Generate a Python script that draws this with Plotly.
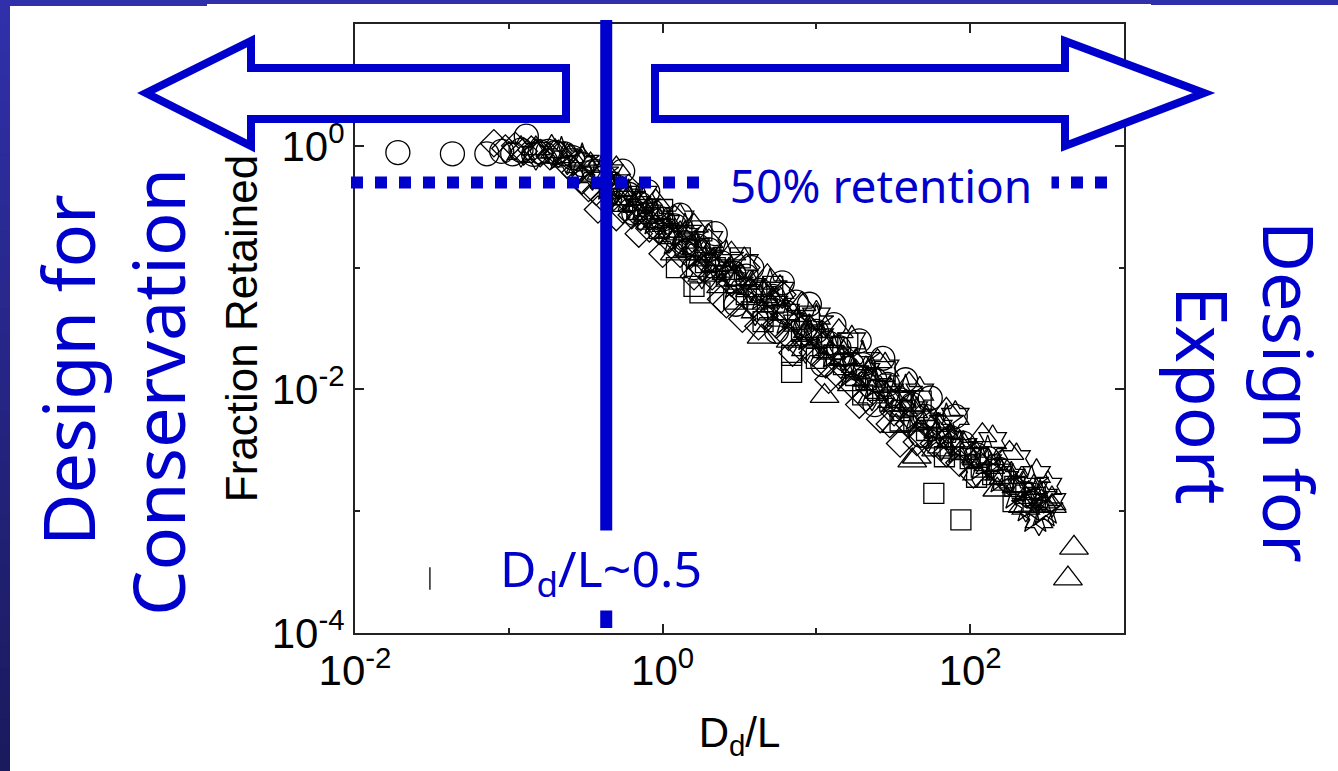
import math
import plotly.graph_objects as go

# ---------------------------------------------------------------- data
circle_x = [0.019, 0.043, 0.072, 0.09, 0.106, 0.12, 0.13, 0.145, 0.16, 0.18, 0.2, 0.23, 0.26, 0.3,
            0.36, 0.42, 0.5, 0.6, 0.72, 0.85, 1.0, 1.2, 1.4, 1.7, 2.0, 2.4, 2.9, 3.5, 4.3, 5.2,
            6.3, 7.4, 8.5, 10, 12, 14, 17, 20, 24, 29, 35, 42, 51, 62, 75, 90, 110, 130, 155,
            0.55, 0.8, 1.3, 2.2, 3.8, 6.0, 9, 13, 19, 27, 38, 55, 80,
            0.65, 1.6, 3.0, 5.5, 11, 24, 48]
circle_y = [0.88, 0.86, 0.86, 0.9, 0.86, 0.92, 1.2, 0.85, 0.89, 0.9, 0.88, 0.86, 0.8, 0.7, 0.62,
            0.55, 0.46, 0.4, 0.33, 0.29, 0.25, 0.22, 0.16, 0.15, 0.14, 0.11, 0.09, 0.085, 0.065,
            0.058, 0.043, 0.052, 0.032, 0.03, 0.024, 0.022, 0.016, 0.016, 0.012, 0.011, 0.0082,
            0.0075, 0.006, 0.005, 0.004, 0.0036, 0.0029, 0.0027, 0.0022,
            0.62, 0.42, 0.27, 0.19, 0.1, 0.075, 0.05, 0.034, 0.025, 0.018, 0.012, 0.0085, 0.006,
            0.28, 0.1, 0.05, 0.03, 0.016, 0.0075, 0.0042]

diamond_x = [0.08, 0.095, 0.11, 0.125, 0.14, 0.16, 0.185, 0.21, 0.24, 0.27, 0.3, 0.33, 0.37, 0.42,
             0.48, 0.55, 0.63, 0.72, 0.82, 0.95, 1.1, 1.3, 1.5, 1.8, 2.1, 2.4, 2.8, 3.3, 3.9, 4.6,
             5.5, 6.6, 8, 9.5, 11.5, 14, 17, 21, 26, 32, 35, 40, 48, 58, 70, 85, 105,
             0.38, 0.5, 0.7, 1.0, 1.6, 2.6, 4.2, 7, 12, 19, 30, 45,
             0.6, 1.2, 2.0, 3.5, 6]
diamond_y = [1.05, 0.95, 1.0, 0.9, 0.93, 0.87, 0.82, 0.86, 0.7, 0.6, 0.52, 0.45, 0.42, 0.36, 0.38,
             0.3, 0.27, 0.26, 0.21, 0.2, 0.17, 0.13, 0.125, 0.1, 0.085, 0.055, 0.075, 0.038, 0.05,
             0.04, 0.034, 0.027, 0.022, 0.02, 0.016, 0.013, 0.011, 0.0085, 0.0057, 0.0065, 0.0036,
             0.0052, 0.0043, 0.0036, 0.003, 0.0025, 0.002,
             0.3, 0.26, 0.19, 0.13, 0.085, 0.05, 0.033, 0.02, 0.012, 0.0075, 0.0052, 0.0037,
             0.45, 0.25, 0.16, 0.1, 0.06]

triangle_x = [0.15, 0.2, 0.25, 0.3, 0.34, 0.4, 0.45, 0.52, 0.6, 0.7, 0.8, 0.95, 1.1, 1.3, 1.55,
              1.85, 2.2, 2.6, 3.1, 3.7, 4.4, 5.2, 6.2, 7.4, 8.8, 10.5, 11.3, 12.5, 15, 18, 21.5,
              26, 31, 37, 42, 45, 52, 62, 75, 90, 110, 135, 165, 200, 240, 290, 340, 432, 473,
              0.5, 0.9, 1.6, 2.8, 4.8, 8, 14, 25, 40, 70, 120, 180,
              1.2, 2.4, 6.8, 17, 33, 60, 150, 220]
triangle_y = [0.95, 0.9, 0.82, 0.78, 0.7, 0.6, 0.5, 0.44, 0.37, 0.33, 0.26, 0.24, 0.2, 0.19, 0.14,
              0.13, 0.105, 0.09, 0.08, 0.065, 0.027, 0.055, 0.042, 0.036, 0.03, 0.025, 0.0088,
              0.02, 0.018, 0.014, 0.012, 0.0095, 0.008, 0.0068, 0.0026, 0.0028, 0.0055, 0.0045,
              0.0038, 0.0032, 0.0027, 0.0023, 0.0019, 0.0016, 0.0014, 0.0012, 0.0011, 0.00028,
              0.0005,
              0.65, 0.35, 0.22, 0.13, 0.085, 0.05, 0.03, 0.017, 0.011, 0.0068, 0.0042, 0.003,
              0.13, 0.07, 0.025, 0.011, 0.005, 0.0032, 0.0015, 0.0011]

square_x = [0.35, 0.45, 0.55, 0.68, 0.8, 0.95, 1.1, 1.23, 1.4, 1.65, 1.9, 2.2, 2.6, 3.0, 3.5,
            4.1, 4.8, 5.6, 6.9, 6.9, 8, 9.3, 11, 13, 15, 18, 21, 25, 30, 36, 43, 52, 58, 62, 74,
            87, 87, 100, 118, 140, 165, 195, 230, 265,
            1.0, 1.8, 3.2, 5.2, 9, 16, 28, 48,
            1.6, 1.75, 2.9, 4.5, 10, 20, 35, 68, 110, 190]
square_y = [0.62, 0.45, 0.35, 0.3, 0.25, 0.21, 0.19, 0.1, 0.15, 0.14, 0.11, 0.1, 0.085, 0.075,
            0.06, 0.055, 0.045, 0.04, 0.019, 0.0138, 0.03, 0.028, 0.022, 0.019, 0.016, 0.013,
            0.012, 0.0098, 0.008, 0.0067, 0.0055, 0.0046, 0.0014, 0.004, 0.0033, 0.0032, 0.00085,
            0.0027, 0.0023, 0.002, 0.0018, 0.0016, 0.0014, 0.0013,
            0.3, 0.2, 0.12, 0.07, 0.04, 0.024, 0.014, 0.008,
            0.07, 0.062, 0.055, 0.036, 0.018, 0.009, 0.0055, 0.0028, 0.0019, 0.0012]

hexagram_x = [0.12, 0.15, 0.19, 0.24, 0.29, 0.35, 0.42, 0.5, 0.58, 0.68, 0.8, 0.92, 1.05, 1.2,
              1.4, 1.65, 1.95, 2.3, 2.7, 3.2, 3.8, 4.5, 5.3, 6.3, 7.5, 9, 10.5, 12.5, 15, 18, 21,
              25, 30, 36, 43, 52, 62, 75, 90, 108, 130, 155, 185, 220, 260, 300, 340,
              0.45, 0.75, 1.3, 2.0, 3.4, 5.8, 10, 17, 28, 47, 80, 140, 200, 270, 320,
              1.8, 4.0, 8.5, 23, 65, 110, 230, 280]
hexagram_y = [0.9, 0.85, 0.92, 0.78, 0.7, 0.58, 0.52, 0.45, 0.38, 0.33, 0.28, 0.25, 0.23, 0.19,
              0.18, 0.15, 0.12, 0.11, 0.09, 0.082, 0.07, 0.06, 0.05, 0.043, 0.035, 0.031, 0.027,
              0.023, 0.019, 0.016, 0.014, 0.0115, 0.0095, 0.0082, 0.0068, 0.0055, 0.0048, 0.0039,
              0.0034, 0.0029, 0.0025, 0.0021, 0.0019, 0.0016, 0.0015, 0.0013, 0.0012,
              0.6, 0.4, 0.25, 0.17, 0.11, 0.065, 0.04, 0.025, 0.015, 0.0095, 0.006, 0.0038,
              0.0027, 0.002, 0.0016,
              0.09, 0.045, 0.022, 0.009, 0.0035, 0.0021, 0.0011, 0.00085]

star_x = [0.22, 0.3, 0.45, 0.6, 0.9, 1.2, 1.7, 2.2, 3.0, 4.5, 6.5, 9, 13, 17, 24, 32, 45, 60, 85,
          120, 160, 200, 240, 265, 300,
          0.4, 0.75, 1.4, 2.6, 5, 10, 20, 38, 70, 130, 250, 285, 310]
star_y = [0.85, 0.75, 0.48, 0.38, 0.25, 0.17, 0.13, 0.1, 0.075, 0.06, 0.038, 0.028, 0.02, 0.014,
          0.011, 0.0085, 0.0062, 0.0042, 0.0033, 0.0024, 0.0019, 0.0014, 0.0011, 0.0009, 0.001,
          0.6, 0.33, 0.2, 0.12, 0.07, 0.036, 0.018, 0.0095, 0.0055, 0.003, 0.0017, 0.0013,
          0.00105]

stray_x = [0.0307]
stray_y = [0.00028]

x_tick_vals = [0.01, 1, 100]
x_tick_text = ["10<sup>-2</sup>", "10<sup>0</sup>", "10<sup>2</sup>"]
x_minor_vals = [0.1, 10, 1000]
y_tick_vals = [1e-4, 1e-2, 1]
y_tick_text = ["10<sup>-4</sup>", "10<sup>-2</sup>", "10<sup>0</sup>"]
y_minor_vals = [1e-3, 1e-1, 10]

threshold_ratio = 0.43      # D_d/L ~ 0.5 divider
retention_level = 0.5       # 50% retention

# ---------------------------------------------------------------- geometry
W, H = 1338, 771
BOX_L, BOX_R, BOX_T, BOX_B = 355, 1124, 24, 633
X_RANGE = (-2, 3)
Y_RANGE = (-4, 1)
BLUE = "#0000CC"


def px_x(px):
    return (px - BOX_L) / (BOX_R - BOX_L)


def px_y(py):
    return (BOX_B - py) / (BOX_B - BOX_T)


def val_x(v):
    return (math.log10(v) - X_RANGE[0]) / (X_RANGE[1] - X_RANGE[0])


def val_y(v):
    return (math.log10(v) - Y_RANGE[0]) / (Y_RANGE[1] - Y_RANGE[0])


fig = go.Figure()


def add_series(xs, ys, symbol, size):
    fig.add_trace(go.Scatter(
        x=xs, y=ys, mode="markers", showlegend=False, hoverinfo="skip",
        marker=dict(symbol=symbol, size=size, color="black",
                    line=dict(color="black", width=1.3)),
    ))


add_series(circle_x, circle_y, "circle-open", 24)
add_series(diamond_x, diamond_y, "diamond-open", 21)
add_series(triangle_x, triangle_y, "triangle-up-open", 25)
add_series(square_x, square_y, "square-open", 20)
add_series(hexagram_x, hexagram_y, "hexagram-open", 24)
add_series(star_x, star_y, "star-open", 26)
add_series(stray_x, stray_y, "line-ns-open", 16)

black_font = "Liberation Sans, Arial, sans-serif"
tick_font = dict(family=black_font, size=42, color="black")
axis_common = dict(
    type="log", showgrid=False, zeroline=False,
    showline=True, linecolor="#222222", linewidth=2, mirror="ticks",
    ticks="inside", ticklen=9, tickwidth=2, tickcolor="#222222",
    tickmode="array", tickfont=tick_font, automargin=False,
)

fig.update_xaxes(
    **axis_common, range=list(X_RANGE),
    tickvals=x_tick_vals, ticktext=x_tick_text,
    minor=dict(tickmode="array", tickvals=x_minor_vals, ticks="inside", ticklen=5,
               tickwidth=2, tickcolor="#222222"),
    title=dict(text="D<sub>d</sub>/L", font=dict(family=black_font, size=42, color="black"),
               standoff=24),
)
fig.update_yaxes(
    **axis_common, range=list(Y_RANGE),
    tickvals=y_tick_vals, ticktext=y_tick_text,
    minor=dict(tickmode="array", tickvals=y_minor_vals, ticks="inside", ticklen=5,
               tickwidth=2, tickcolor="#222222"),
    title=dict(text="Fraction Retained", font=dict(family=black_font, size=44, color="black"),
               standoff=0),
)

shapes = []

# slide frame: vertical gradient bar on the left, thin band on top
top_rgb = (48, 48, 170)
bot_rgb = (26, 26, 94)
n_steps = 30
for i in range(n_steps):
    t = i / (n_steps - 1)
    c = tuple(round(a + (b - a) * t) for a, b in zip(top_rgb, bot_rgb))
    y0 = H * i / n_steps
    y1 = H * (i + 1) / n_steps + 1
    shapes.append(dict(type="rect", xref="paper", yref="paper", layer="above",
                       x0=px_x(0), x1=px_x(10), y0=px_y(y1), y1=px_y(y0),
                       fillcolor="rgb(%d,%d,%d)" % c, line=dict(width=0)))
for (xa, xb, hb) in [(0, 207, 6), (207, 1151, 4), (1151, W, 5)]:
    shapes.append(dict(type="rect", xref="paper", yref="paper", layer="above",
                       x0=px_x(xa), x1=px_x(xb), y0=px_y(hb), y1=px_y(0),
                       fillcolor="rgb(48,48,170)", line=dict(width=0)))


def arrow_path(points):
    return "M " + " L ".join("%.5f,%.5f" % (px_x(a), px_y(b)) for a, b in points) + " Z"


left_arrow = [(146, 93), (251, 41), (251, 68), (566, 68), (566, 119), (251, 119), (251, 146)]
right_arrow = [(1204, 93), (1065, 41), (1065, 68), (655, 68), (655, 119), (1065, 119), (1065, 146)]
for pts in (left_arrow, right_arrow):
    shapes.append(dict(type="path", xref="paper", yref="paper", layer="above",
                       path=arrow_path(pts), fillcolor="white",
                       line=dict(color=BLUE, width=8)))

# 50 % retention level (dotted) and the D_d/L divider (solid)
shapes.append(dict(type="line", xref="paper", yref="paper", layer="above",
                   x0=px_x(351), x1=px_x(1107),
                   y0=val_y(retention_level), y1=val_y(retention_level),
                   line=dict(color=BLUE, width=12, dash="12px,12px")))
shapes.append(dict(type="line", xref="paper", yref="paper", layer="above",
                   x0=val_x(threshold_ratio), x1=val_x(threshold_ratio),
                   y0=px_y(628), y1=px_y(20),
                   line=dict(color=BLUE, width=12)))

blue_font = "Noto Sans, DejaVu Sans, sans-serif"


def label(text, px, py, size, **kw):
    d = dict(text=text, xref="paper", yref="paper", x=px_x(px), y=px_y(py),
             xanchor="center", yanchor="middle", showarrow=False,
             font=dict(family=blue_font, size=size, color=BLUE))
    d.update(kw)
    return d


annotations = [
    label("50% retention", 881, 185, 46, bgcolor="white", width=340, height=50, borderpad=0),
    label("D<sub>d</sub>/L~0.5", 601, 570, 50, bgcolor="white", width=214, height=75,
          borderpad=2),
    label("Design for", 67, 370, 72, textangle=-90),
    label("Conservation", 157, 392, 72, textangle=-90),
    label("Design for", 1290, 392, 70, textangle=90),
    label("Export", 1204, 395, 71, textangle=90),
]

fig.update_layout(
    template="none",
    width=W, height=H, autosize=False,
    margin=dict(l=BOX_L, r=W - BOX_R, t=BOX_T, b=H - BOX_B, pad=0),
    paper_bgcolor="white", plot_bgcolor="white",
    showlegend=False,
    shapes=shapes, annotations=annotations,
)

fig.write_html("out.html")
